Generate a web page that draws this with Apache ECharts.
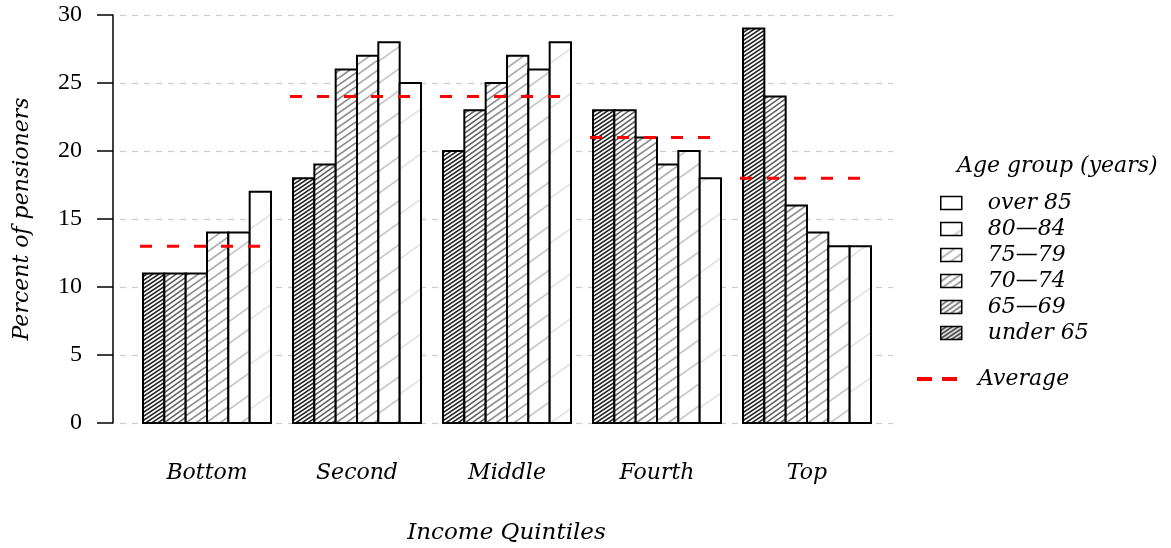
<!DOCTYPE html>
<html>
<head>
<meta charset="utf-8">
<script src="https://cdn.jsdelivr.net/npm/echarts@6/dist/echarts.min.js"></script>
<style>
html,body{margin:0;padding:0;background:#fff;}
#chart{width:1171px;height:548px;}
</style>
</head>
<body>
<div id="chart"></div>
<script>
// ---- data ----
const categories = ['Bottom', 'Second', 'Middle', 'Fourth', 'Top'];
const ageGroups = ['under 65', '65—69', '70—74', '75—79', '80—84', 'over 85'];
const under65 = [11, 18, 20, 23, 29];
const age65to69 = [11, 19, 23, 23, 24];
const age70to74 = [11, 26, 25, 21, 16];
const age75to79 = [14, 27, 27, 19, 14];
const age80to84 = [14, 28, 26, 20, 13];
const over85 = [17, 25, 28, 18, 13];
const averages = [13, 24, 24, 21, 18];
const yTicks = [0, 5, 10, 15, 20, 25, 30];

const seriesValues = [under65, age65to69, age70to74, age75to79, age80to84, over85];

const NUMFONT = 'Liberation Serif';
const ITFONT = 'DejaVu Serif';

function hatch(w, h, color, lw) {
  const c = document.createElement('canvas');
  c.width = w; c.height = h;
  const ctx = c.getContext('2d');
  ctx.fillStyle = '#fff';
  ctx.fillRect(0, 0, w, h);
  ctx.strokeStyle = color;
  ctx.lineWidth = lw;
  for (let n = -1; n <= 1; n++) {
    ctx.beginPath();
    ctx.moveTo(-w, 2 * h + n * h);
    ctx.lineTo(2 * w, -h + n * h);
    ctx.stroke();
  }
  return { image: c, repeat: 'repeat' };
}

const patterns = [
  hatch(6, 4, '#222222', 1.5),
  hatch(7, 5, '#606060', 1.5),
  hatch(10, 7, '#8a8a8a', 1.6),
  hatch(14, 10, '#ababab', 1.7),
  hatch(31, 22, '#c8c8c8', 1.8),
  hatch(64, 45, '#e3e3e3', 1.8)
];

const groupHalf = 64 / 150;
const barW = (128 / 6) / 150;

function makeRender(j) {
  return function (params, api) {
    const i = api.value(0);
    const v = api.value(1);
    const x0 = i - groupHalf + j * barW;
    const p1 = api.coord([x0, v]);
    const p2 = api.coord([x0 + barW, 0]);
    return {
      type: 'rect',
      shape: { x: p1[0], y: p1[1], width: p2[0] - p1[0], height: p2[1] - p1[1] },
      style: { fill: patterns[j], stroke: '#000', lineWidth: 2 }
    };
  };
}

const series = seriesValues.map((vals, j) => ({
  type: 'custom',
  name: ageGroups[j],
  data: vals.map((v, i) => [i, v]),
  encode: { x: 0, y: 1 },
  renderItem: makeRender(j),
  itemStyle: { color: patterns[j], borderColor: '#000' },
  z: 2,
  silent: true
}));

series.push({
  type: 'custom',
  name: 'Average',
  data: averages.map((v, i) => [i, v]),
  encode: { x: 0, y: 1 },
  renderItem: function (params, api) {
    const i = api.value(0);
    const v = api.value(1);
    const a = api.coord([i - 67 / 150, v]);
    const b = api.coord([i + 55 / 150, v]);
    return {
      type: 'line',
      shape: { x1: a[0], y1: a[1], x2: b[0], y2: b[1] },
      style: { stroke: '#ff0000', lineWidth: 3, lineDash: [12, 15] }
    };
  },
  itemStyle: { color: '#ff0000' },
  z: 5,
  silent: true
});

const chart = echarts.init(document.getElementById('chart'), null, { renderer: 'canvas' });
chart.setOption({
  animation: false,
  backgroundColor: '#fff',
  title: {
    text: 'Age group (years)',
    left: 957,
    top: 155,
    padding: 0,
    textStyle: { fontFamily: ITFONT, fontStyle: 'italic', fontWeight: 'normal', fontSize: 22, color: '#000' }
  },
  grid: { left: 120, right: 278, top: 15, bottom: 125, outerBoundsMode: 'none' },
  xAxis: {
    type: 'value',
    min: -0.58,
    max: 4.5733,
    axisLine: { show: false },
    axisTick: { show: false },
    splitLine: { show: false },
    axisLabel: {
      customValues: [0, 1, 2, 3, 4],
      formatter: function (v) { return categories[Math.round(v)]; },
      margin: 39,
      fontFamily: ITFONT, fontStyle: 'italic', fontWeight: 'normal', fontSize: 22, color: '#000'
    },
    name: 'Income Quintiles',
    nameLocation: 'middle',
    nameGap: 99,
    nameTextStyle: { fontFamily: ITFONT, fontStyle: 'italic', fontSize: 23, color: '#000' }
  },
  yAxis: {
    type: 'value',
    min: 0,
    max: 30,
    interval: 5,
    offset: 7,
    axisLine: { show: true, onZero: false, lineStyle: { color: '#000', width: 1.5 } },
    axisTick: { show: true, length: 16, lineStyle: { color: '#000', width: 1.5 } },
    axisLabel: {
      margin: 31, fontFamily: NUMFONT, fontSize: 24, color: '#000',
      formatter: function (v) { return yTicks.indexOf(v) >= 0 ? String(v) : ''; }
    },
    splitLine: { show: true, lineStyle: { color: '#cccccc', width: 1.2, type: [6, 6] } },
    name: 'Percent of pensioners',
    nameLocation: 'middle',
    nameGap: 80,
    nameTextStyle: { fontFamily: ITFONT, fontStyle: 'italic', fontSize: 22, color: '#000' }
  },
  legend: [
    {
      orient: 'vertical',
      left: 940,
      top: 192,
      padding: 0,
      selectedMode: false,
      itemWidth: 21,
      itemHeight: 13,
      itemGap: 4,
      icon: 'rect',
      data: ageGroups.slice().reverse().map(name => ({
        name: name,
        itemStyle: { color: patterns[ageGroups.indexOf(name)], borderColor: '#000', borderWidth: 1.5 }
      })),
      textStyle: { fontFamily: ITFONT, fontStyle: 'italic', fontSize: 22, color: '#000', padding: [0, 0, 0, 21] }
    },
    {
      orient: 'vertical',
      left: 917,
      top: 368,
      padding: 0,
      selectedMode: false,
      itemWidth: 40,
      itemHeight: 4,
      data: [{
        name: 'Average',
        icon: 'path://M0,0H15V4H0Z M25,0H40V4H25Z',
        itemStyle: { color: '#ff0000' }
      }],
      textStyle: { fontFamily: ITFONT, fontStyle: 'italic', fontSize: 22, color: '#000', padding: [0, 0, 0, 16] }
    }
  ],
  series: series
});
</script>
</body>
</html>
